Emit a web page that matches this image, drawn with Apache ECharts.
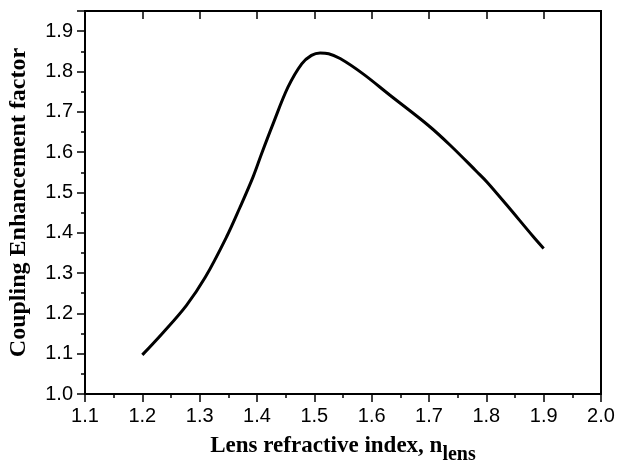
<!DOCTYPE html>
<html>
<head>
<meta charset="utf-8">
<script src="https://cdn.jsdelivr.net/npm/echarts@6/dist/echarts.min.js"></script>
<style>
  html, body { margin: 0; padding: 0; background: #fff; }
  #chart { width: 617px; height: 465px; }
</style>
</head>
<body>
<div id="chart"></div>
<script>
// lens refractive index (x) and coupling enhancement factor (y)
var nLens = [1.20, 1.236, 1.277, 1.31, 1.347, 1.37, 1.393, 1.408, 1.428, 1.454, 1.478, 1.495, 1.51, 1.525, 1.545, 1.585, 1.632, 1.699, 1.737, 1.783, 1.801, 1.836, 1.882, 1.90]
var enhancement = [1.097, 1.152, 1.22, 1.29, 1.39, 1.462, 1.538, 1.596, 1.670, 1.761, 1.819, 1.840, 1.846, 1.844, 1.832, 1.794, 1.741, 1.666, 1.617, 1.552, 1.526, 1.468, 1.39, 1.361]

var xName = 'Lens refractive index, n'
var xSub = 'lens'
var yName = 'Coupling Enhancement factor'

var points = nLens.map(function (x, i) { return [x, enhancement[i]] })

var chart = echarts.init(document.getElementById('chart'))
var serif = 'Liberation Serif, Times New Roman, serif'
var labelStyle = {
  color: '#000',
  fontFamily: 'Liberation Sans, Arial, sans-serif',
  fontSize: 20
}

chart.setOption({
  animation: false,
  grid: {
    left: 85,
    right: 16,
    top: 11,
    bottom: 71,
    outerBoundsMode: 'none',
    show: true,
    borderColor: '#000',
    borderWidth: 2
  },
  xAxis: [
    {
      type: 'value',
      min: 1.1,
      max: 2.0,
      interval: 0.1,
      name: '{a|' + xName + '}{b|' + xSub + '}',
      nameLocation: 'middle',
      nameGap: 40,
      nameTextStyle: {
        rich: {
          a: { fontFamily: serif, fontWeight: 'bold', fontSize: 23, color: '#000', lineHeight: 30, verticalAlign: 'top' },
          b: { fontFamily: serif, fontWeight: 'bold', fontSize: 20, color: '#000', lineHeight: 30, verticalAlign: 'bottom', padding: [14, 0, 0, 0] }
        }
      },
      axisLine: { show: true, onZero: false, lineStyle: { color: '#000', width: 2 } },
      axisTick: { show: true, inside: false, length: 8, lineStyle: { color: '#000', width: 1.5 } },
      minorTick: { show: true, splitNumber: 2, length: 4, lineStyle: { color: '#000', width: 1.5 } },
      axisLabel: Object.assign({ margin: 12, formatter: function (v) { return v.toFixed(1) } }, labelStyle),
      splitLine: { show: false }
    },
    {
      type: 'value',
      position: 'top',
      min: 1.1,
      max: 2.0,
      interval: 0.1,
      axisLine: { show: true, onZero: false, lineStyle: { color: '#000', width: 2 } },
      axisTick: { show: true, inside: true, length: 8, lineStyle: { color: '#000', width: 1.5 } },
      axisLabel: { show: false },
      splitLine: { show: false }
    }
  ],
  yAxis: {
    type: 'value',
    min: 1.0,
    max: 1.95,
    interval: 0.1,
    name: yName,
    nameLocation: 'middle',
    nameGap: 54,
    nameTextStyle: {
      fontFamily: serif,
      fontWeight: 'bold',
      fontSize: 24,
      color: '#000'
    },
    axisLine: { show: true, onZero: false, lineStyle: { color: '#000', width: 2 } },
    axisTick: { show: true, inside: false, length: 8, lineStyle: { color: '#000', width: 1.5 } },
    minorTick: { show: true, splitNumber: 2, length: 4, lineStyle: { color: '#000', width: 1.5 } },
    axisLabel: Object.assign({ margin: 12, showMaxLabel: false, formatter: function (v) { return v.toFixed(1) } }, labelStyle),
    splitLine: { show: false }
  },
  series: [
    {
      type: 'line',
      data: points,
      smooth: 0.35,
      symbol: 'none',
      lineStyle: { color: '#000', width: 3 }
    }
  ]
})
</script>
</body>
</html>
